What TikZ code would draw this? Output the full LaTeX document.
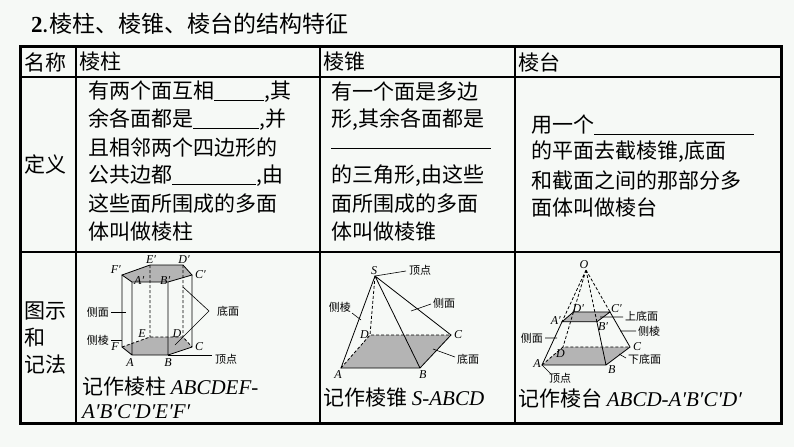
\documentclass[tikz,border=0pt]{standalone}
\usepackage{fontspec}
\setmainfont{Liberation Serif}
\newfontfamily\cjk{Noto Sans CJK SC}
\usetikzlibrary{calc}
\definecolor{bg}{HTML}{F6F9F6}
\definecolor{basegray}{HTML}{B4B4B4}
\newcommand{\bl}[1]{\underline{\hspace{#1pt}}}
\newcommand{\pr}{′}
\tikzset{
 tx/.style={anchor=west,inner sep=0pt,font=\cjk\fontsize{21}{21}\selectfont},
 sm/.style={inner sep=0pt,font=\cjk\fontsize{11}{11}\selectfont},
 lt/.style={inner sep=0pt,font=\itshape\fontsize{12}{12}\selectfont},
 fig/.style={line width=0.8pt},
 hid/.style={line width=0.8pt,dashed,dash pattern=on 3pt off 2pt},
 lead/.style={line width=0.6pt},
}
\begin{document}
\begin{tikzpicture}[x=1pt,y=-1pt]
\fill[bg] (0,0) rectangle (794,447);
\useasboundingbox (0,0) rectangle (794,447);
\node[tx,font=\cjk\fontsize{23}{23}\selectfont] (title) at (31,24) {\textbf{\rmfamily 2}.棱柱、棱锥、棱台的结构特征};
% table
\draw[line width=1.2pt] (76,46)--(76,423) (320,46)--(320,423) (515,46)--(515,423)
  (20,77)--(781,77) (20,252)--(781,252);
\draw[line width=3pt] (20,46) rectangle (781,423);
\node[tx] (h0) at (24,62) {名称};
\node[tx] (h1) at (79,62) {棱柱};
\node[tx] (h2) at (323,62) {棱锥};
\node[tx] (h3) at (518,62) {棱台};
\node[tx] (d0) at (24,164) {定义};
\node[tx,align=left] (g0) at (24,338) {图示\\[6pt]和\\[6pt]记法};
% col1 text
\node[tx] (a1) at (88,92) {有两个面互相\bl{50},其};
\node[tx] (a2) at (88,120) {余各面都是\bl{66},并};
\node[tx] (a3) at (88,148) {且相邻两个四边形的};
\node[tx] (a4) at (88,176) {公共边都\bl{84},由};
\node[tx] (a5) at (88,204) {这些面所围成的多面};
\node[tx] (a6) at (88,232) {体叫做棱柱};
% col2 text
\node[tx] (b1) at (331,92) {有一个面是多边};
\node[tx] (b2) at (331,120) {形,其余各面都是};
\node[tx] (b3) at (331,148) {\bl{160}};
\node[tx] (b4) at (331,176) {的三角形,由这些};
\node[tx] (b5) at (331,204) {面所围成的多面};
\node[tx] (b6) at (331,232) {体叫做棱锥};
% col3 text
\node[tx] (c1) at (531,125) {用一个\bl{160}};
\node[tx] (c2) at (531,152) {的平面去截棱锥,底面};
\node[tx] (c3) at (531,180) {和截面之间的那部分多};
\node[tx] (c4) at (531,207) {面体叫做棱台};
% captions
\node[tx] (p1) at (82,387) {记作棱柱 {\rmfamily\itshape ABCDEF-}};
\node[tx] (p2) at (82,412) {\rmfamily\itshape A\pr B\pr C\pr D\pr E\pr F\pr};
\node[tx] (p3) at (323,398) {记作棱锥 {\rmfamily\itshape S-ABCD}};
\node[tx] (p4) at (518,398) {记作棱台 {\rmfamily\itshape ABCD-A\pr B\pr C\pr D\pr}};
% ===== prism
\coordinate (Fp) at (122,275); \coordinate (Ap) at (132,282); \coordinate (Bp) at (168,282);
\coordinate (Cp) at (192,275); \coordinate (Dp) at (183,265); \coordinate (Ep) at (150,265);
\coordinate (F) at (122,347); \coordinate (A) at (132,355); \coordinate (B) at (168,355);
\coordinate (C) at (192,347); \coordinate (D) at (183,337); \coordinate (E) at (150,337);
\fill[basegray] (Fp)--(Ap)--(Bp)--(Cp)--(Dp)--(Ep)--cycle;
\fill[basegray] (F)--(A)--(B)--(C)--(D)--(E)--cycle;
\draw[fig] (Fp)--(Ap)--(Bp)--(Cp)--(Dp)--(Ep)--cycle;
\draw[fig] (Fp)--(F)--(A)--(B)--(C)--(Cp) (Ap)--(A) (Bp)--(B);
\draw[hid] (F)--(E)--(D)--(C) (Ep)--(E) (Dp)--(D);
\node[lt,anchor=south east] (lFp) at ([shift={(-1,-1)}]Fp) {F\pr};
\node[lt,anchor=south west] (lAp) at ([shift={(2,3)}]Ap) {A\pr};
\node[lt,anchor=south west] (lBp) at ([shift={(-8,3)}]Bp) {B\pr};
\node[lt,anchor=west] (lCp) at ([shift={(3,0)}]Cp) {C\pr};
\node[lt,anchor=south] (lDp) at ([shift={(1,-1)}]Dp) {D\pr};
\node[lt,anchor=south] (lEp) at ([shift={(1,-1)}]Ep) {E\pr};
\node[lt,anchor=east] (lF) at ([shift={(-3,0)}]F) {F};
\node[lt,anchor=north] (lA) at ([shift={(-2,3)}]A) {A};
\node[lt,anchor=north] (lB) at ([shift={(0,3)}]B) {B};
\node[lt,anchor=west] (lC) at ([shift={(3,0)}]C) {C};
\node[lt,anchor=south] (lD) at ([shift={(-6,1)}]D) {D};
\node[lt,anchor=south] (lE) at ([shift={(-8,1)}]E) {E};
\node[sm,anchor=east] (s1) at (109,312) {侧面};
\node[sm,anchor=east] (s2) at (109,340) {侧棱};
\node[sm,anchor=west] (s3) at (217,311) {底面};
\node[sm,anchor=west] (s4) at (215,359) {顶点};
\draw[lead] (s1.east)++(2,0)--(126,312) (s2.east)++(2,0)--(122,340);
\coordinate (m3) at (209,311);
\draw[lead] (183,287)--(m3)--(175,345);
\draw[lead] (B)--(212,355);
% ===== pyramid
\coordinate (S) at (375,276); \coordinate (PA) at (341,368); \coordinate (PB) at (420,368);
\coordinate (PC) at (451,335); \coordinate (PD) at (370,335);
\fill[basegray] (PA)--(PB)--(PC)--(PD)--cycle;
\draw[fig] (S)--(PA)--(PB)--(PC)--cycle (S)--(PB);
\draw[hid] (S)--(PD) (PA)--(PD)--(PC);
\node[lt,anchor=south] (lS) at ([shift={(-1,-1)}]S) {S};
\node[lt,anchor=north] (lPA) at ([shift={(-3,2)}]PA) {A};
\node[lt,anchor=north west] (lPB) at ([shift={(-1,2)}]PB) {B};
\node[lt,anchor=west] (lPC) at ([shift={(3,0)}]PC) {C};
\node[lt,anchor=east] (lPD) at ([shift={(-1,0)}]PD) {D};
\node[sm,anchor=west] (q1) at (409,270) {顶点};
\node[sm,anchor=east] (q2) at (351,307) {侧棱};
\node[sm,anchor=west] (q3) at (433,303) {侧面};
\node[sm,anchor=west] (q4) at (457,359) {底面};
\draw[lead] (S)--(406,271) (352,313)--(361,320) (431,304)--(411,311) (455,357)--(433,349);
% ===== frustum
\coordinate (O) at (586,270);
\coordinate (TA) at (542,365); \coordinate (TB) at (606,365); \coordinate (TC) at (630,347); \coordinate (TD) at (563,347);
\coordinate (UA) at ($(O)!0.545!(TA)$); \coordinate (UB) at ($(O)!0.545!(TB)$);
\coordinate (UC) at ($(O)!0.545!(TC)$); \coordinate (UD) at ($(O)!0.545!(TD)$);
\fill[basegray] (TA)--(TB)--(TC)--(TD)--cycle;
\fill[basegray] (UA)--(UB)--(UC)--(UD)--cycle;
\draw[fig] (UA)--(UB)--(UC)--(UD)--cycle (UA)--(TA)--(TB)--(TC)--(UC) (UB)--(TB);
\draw[hid] (O)--(UA) (O)--(UB) (O)--(UC) (O)--(UD) (UD)--(TD) (TA)--(TD)--(TC);
\node[lt,anchor=south] (lO) at ([shift={(-2,-1)}]O) {O};
\node[lt,anchor=east] (lTA) at ([shift={(-1,-1)}]TA) {A};
\node[lt,anchor=north west] (lTB) at ([shift={(2,0)}]TB) {B};
\node[lt,anchor=west] (lTC) at ([shift={(3,0)}]TC) {C};
\node[lt,anchor=north west] (lTD) at ([shift={(-7,2)}]TD) {D};
\node[lt,anchor=east] (lUA) at ([shift={(-1,-1)}]UA) {A\pr};
\node[lt,anchor=north west] (lUB) at ([shift={(1,1)}]UB) {B\pr};
\node[lt,anchor=south west] (lUC) at ([shift={(1,1)}]UC) {C\pr};
\node[lt,anchor=south west] (lUD) at ([shift={(-1,1)}]UD) {D\pr};
\node[sm,anchor=west] (r1) at (625,316) {上底面};
\node[sm,anchor=west] (r2) at (638,331) {侧棱};
\node[sm,anchor=east] (r3) at (543,338) {侧面};
\node[sm,anchor=west] (r4) at (628,359) {下底面};
\node[sm,anchor=north west] (r5) at (549,373) {顶点};
\draw[lead] (600,317)--(623,317) (620,331)--(636,331) (545,338)--(557,338) (619,354)--(626,358) (TA)--(551,374);
\end{tikzpicture}
\end{document}
